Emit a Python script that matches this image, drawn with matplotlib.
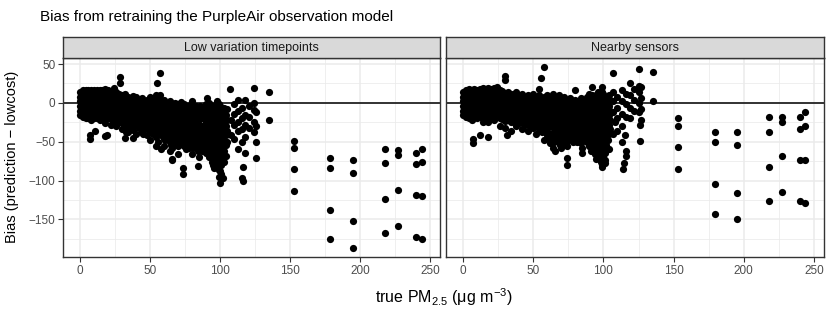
import matplotlib
matplotlib.use("Agg")
import matplotlib.pyplot as plt
from matplotlib.ticker import MultipleLocator

plt.rcParams["font.family"] = ["Liberation Sans", "DejaVu Sans"]
plt.rcParams["mathtext.fontset"] = "custom"
plt.rcParams["mathtext.rm"] = "Liberation Sans"
plt.rcParams["mathtext.it"] = "Liberation Sans:italic"

TITLE = "Bias from retraining the PurpleAir observation model"
PANELS = ["Low variation timepoints", "Nearby sensors"]

# dense part of each panel: x value -> y values in that column
low_dense = {
    0: [14, 8, 2, -4, -10, -15],
    2: [16, 10, 4, -2, -8, -14, -18],
    4: [17, 11, 5, -1, -7, -13, -20],
    6: [17, 11, 5, -1, -7, -13, -19],
    8: [17, 11, 5, -1, -7, -13, -22],
    10: [16, 10, 4, -2, -8, -14, -20],
    12: [17, 11, 5, -1, -7, -13, -19],
    14: [16, 10, 4, -2, -8, -14, -22],
    16: [16, 10, 4, -2, -8, -14, -20],
    18: [18, 12, 6, 0, -6, -12, -18, -26],
    20: [17, 11, 5, -1, -7, -13, -19],
    22: [15, 9, 3, -3, -9, -15, -21, -28],
    24: [19, 13, 7, 1, -5, -11, -17, -23],
    26: [14, 8, 2, -4, -10, -16, -22, -30],
    28: [12, 6, 0, -6, -12, -18, -24],
    30: [10, 4, -2, -8, -14, -20, -26, -34],
    32: [12, 6, 0, -6, -12, -18, -24, -30],
    34: [8, 2, -4, -10, -16, -22, -28, -38],
    36: [6, 0, -6, -12, -18, -24, -30],
    38: [9, 3, -3, -9, -15, -21, -27, -35],
    40: [7, 1, -5, -11, -17, -23, -29, -40],
    42: [4, -2, -8, -14, -20, -26, -32],
    44: [6, 0, -6, -12, -18, -24, -30, -38],
    46: [2, -4, -10, -16, -22, -28, -34],
    48: [4, -2, -8, -14, -20, -26, -32, -42],
    50: [8, 2, -4, -10, -16, -22, -28, -36, -48],
    52: [3, -3, -9, -15, -21, -27, -33, -40],
    54: [10, 4, -2, -8, -14, -20, -26, -32, -44, -55],
    56: [5, -1, -7, -13, -19, -25, -31, -38, -50],
    58: [2, -4, -10, -16, -22, -28, -34, -42, -60],
    60: [4, -2, -8, -14, -20, -26, -32, -38, -46, -55],
    62: [0, -6, -12, -18, -24, -30, -36, -44],
    64: [2, -4, -10, -16, -22, -28, -36, -50, -62],
    66: [-2, -8, -14, -20, -28, -36, -44, -58, -72],
    68: [0, -6, -12, -20, -30, -40, -50],
    70: [-4, -10, -18, -26, -34, -46, -56, -66],
    72: [1, -8, -16, -24, -32, -42, -52],
    74: [-2, -12, -22, -30, -40, -55],
    76: [-6, -14, -24, -36, -48, -60],
    78: [-4, -10, -20, -30, -44, -58],
    80: [-8, -18, -28, -40, -52, -66],
    82: [-6, -16, -26, -38, -50],
    84: [-10, -22, -34, -46, -62],
    86: [-4, -14, -28, -40, -56],
    88: [-8, -20, -32, -46, -60],
    90: [-2, -12, -24, -36, -50, -64],
    92: [0, -10, -22, -34, -44, -56, -70],
    94: [-4, -14, -26, -38, -50, -62, -76],
    96: [-6, -16, -28, -40, -52, -64, -72, -84],
    98: [-8, -20, -32, -44, -56, -68, -80],
    100: [-4, -14, -26, -38, -48, -60, -74, -88],
    102: [-10, -22, -34, -46, -58, -70],
    104: [-16, -30, -42, -54, -68],
    110: [-2, -14, -28, -46],
    113: [4, -10, -24, -36, -60],
    116: [-6, -20, -34, -50],
    118: [-16, -28, -44, -64],
    121: [-4, -18, -32],
    124: [0, -9, -25, -38],
    126: [-12, -30],
}
low_fill = {
    61: [-5, -15, -25, -35, -48],
    63: [-3, -13, -23, -33, -42],
    65: [-1, -11, -21, -31, -40, -54],
    67: [-4, -17, -25, -34, -46],
    69: [-2, -15, -23, -36, -44],
    71: [-7, -14, -22, -30, -40, -50],
    73: [-4, -12, -20, -28, -36, -47],
    75: [-10, -18, -28, -42, -52],
    77: [-8, -18, -28, -40, -52],
    79: [-2, -14, -24, -36, -48],
    81: [-12, -22, -34, -44, -58],
    83: [-4, -16, -28, -40, -54],
    85: [-6, -16, -28, -40, -52, -70],
    87: [-10, -20, -34, -48, -62],
    89: [-4, -14, -28, -40, -54],
    91: [-6, -18, -30, -42, -58],
    93: [-6, -18, -30, -40, -52, -66],
    95: [-10, -20, -32, -44, -58, -68, -80],
    97: [-2, -12, -24, -36, -48, -60, -76],
    99: [-2, -14, -26, -38, -50, -62, -86],
    101: [-8, -20, -32, -42, -54, -66, -80, -92],
    103: [-6, -16, -28, -40, -52, -62, -76],
    105: [-8, -22, -36, -50],
}
low_x = [28.6, 28.6, 7, 7, 10.7, 17.9, 19, 32, 38, 57, 55, 57, 79.8, 90.5,
         97.6, 107, 124.5, 118, 135, 135, 125.7, 125.7, 84.5, 73.8, 73.8,
         65.5, 116.7, 115.5, 116.7, 99, 102, 100, 108, 108, 45, 33,
         153, 153, 153, 153, 178.6, 178.6, 178.6, 178.6,
         194.8, 194.8, 194.8, 194.8, 217.9, 217.9, 217.9, 217.9,
         226.9, 226.9, 226.9, 226.9, 239.8, 239.8, 239.8, 239.8,
         244, 244, 244, 244]
low_y = [26, 33, -47, -42, -36.6, -43, -41, -45, -45, 38.7, 25, 10, 3, 6,
         2, 18, 19, 4, 13.7, -22, -50, -71, -81, -84, -92,
         -73, -82, -97, -101, -95, -97, -103, -21.5, -41, -40, -38,
         -49.5, -58, -85, -114, -71, -84, -138, -175,
         -74, -90, -152.6, -187, -60, -78, -124, -167.5,
         -61, -67.5, -112, -158, -64.5, -78.6, -119, -173,
         -59, -76.5, -120, -175]

near_dense = {
    0: [14, 8, 2, -4, -10, -15],
    2: [17, 11, 5, -1, -7, -13, -18],
    4: [18, 12, 6, 0, -6, -12, -19],
    6: [17, 11, 5, -1, -7, -13, -22],
    8: [18, 12, 6, 0, -6, -12, -18],
    10: [17, 11, 5, -1, -7, -13, -20],
    12: [18, 12, 6, 0, -6, -12, -18],
    14: [19, 13, 7, 1, -5, -11, -17, -25],
    16: [18, 12, 6, 0, -6, -12, -18],
    18: [19, 13, 7, 1, -5, -11, -17, -24],
    20: [18, 12, 6, 0, -6, -12, -18],
    22: [19, 13, 7, 1, -5, -11, -17, -22],
    24: [20, 14, 8, 2, -4, -10, -16],
    26: [16, 10, 4, -2, -8, -14, -20, -30],
    28: [15, 9, 3, -3, -9, -15, -21],
    30: [13, 7, 1, -5, -11, -17, -23, -32],
    32: [14, 8, 2, -4, -10, -16, -22],
    34: [11, 5, -1, -7, -13, -19, -25, -36],
    36: [12, 6, 0, -6, -12, -18, -24],
    38: [14, 8, 2, -4, -10, -16, -22, -30],
    40: [10, 4, -2, -8, -14, -20, -26],
    42: [12, 6, 0, -6, -12, -18, -24, -34],
    44: [8, 2, -4, -10, -16, -22, -28],
    46: [10, 4, -2, -8, -14, -20, -26, -36],
    48: [6, 0, -6, -12, -18, -24, -30],
    50: [12, 6, 0, -6, -12, -18, -24, -32],
    52: [8, 2, -4, -10, -16, -22, -28, -40],
    54: [18, 10, 4, -2, -8, -14, -20, -26, -34],
    56: [6, 0, -6, -12, -18, -24, -30, -38],
    58: [8, 2, -4, -10, -16, -22, -28, -36, -48],
    60: [10, 4, -2, -8, -14, -20, -26, -34, -42],
    62: [6, 0, -6, -12, -18, -24, -30, -40, -52],
    64: [12, 4, -2, -8, -14, -22, -30, -40],
    66: [8, 0, -8, -16, -24, -32, -42],
    68: [10, 2, -6, -14, -22, -30, -40, -50],
    70: [4, -4, -12, -20, -28, -38, -48, -58],
    72: [8, 0, -8, -16, -26, -36, -46],
    74: [2, -6, -14, -24, -34, -44, -56],
    76: [6, -2, -10, -20, -30, -42],
    78: [0, -8, -18, -28, -38, -50],
    80: [4, -4, -14, -24, -34, -46],
    82: [-2, -12, -22, -32, -42],
    84: [6, -6, -16, -28, -40, -52],
    86: [2, -8, -20, -32, -44],
    88: [8, -4, -14, -26, -38, -50],
    90: [12, 4, -6, -18, -30, -42, -56],
    92: [10, 0, -10, -22, -34, -46, -60],
    94: [6, -4, -14, -26, -38, -50, -66],
    96: [14, 2, -8, -20, -32, -44, -56, -70],
    98: [8, -2, -12, -24, -36, -48, -60, -76],
    100: [12, 0, -10, -22, -34, -46, -58, -70],
    102: [6, -6, -18, -30, -42, -54],
    104: [10, -4, -16, -28, -40, -60],
    107: [14, 2, -12, -40],
    110: [8, -6, -20, -36],
    113: [16, 2, -14, -30, -50],
    116: [12, -2, -18],
    119: [10, -6, -20],
    122: [18, 4, -10],
    125: [14, 0, -12],
    127: [20, 6, -8, -22],
}
near_fill = {
    61: [0, -10, -20, -30, -46],
    63: [2, -10, -20, -30, -46],
    65: [4, -4, -12, -20, -28, -36, -50],
    67: [4, -4, -12, -20, -28, -36, -46],
    69: [6, -2, -10, -18, -26, -34, -44, -54],
    71: [0, -8, -16, -24, -32, -42, -52],
    73: [4, -4, -12, -20, -30, -40, -50],
    75: [-2, -10, -18, -26, -36, -48],
    77: [2, -6, -14, -24, -34, -46],
    79: [-4, -12, -22, -32, -42],
    81: [0, -8, -18, -28, -40, -50],
    83: [2, -10, -20, -32, -44],
    85: [-2, -12, -24, -36, -48, -58],
    87: [4, -6, -16, -28, -40],
    89: [0, -10, -22, -34, -46],
    91: [8, -2, -12, -24, -36, -48, -62],
    93: [4, -6, -16, -28, -40, -52],
    95: [10, 0, -10, -20, -32, -44, -58, -72],
    97: [4, -6, -16, -28, -40, -52, -64],
    99: [14, 2, -8, -18, -30, -42, -54, -66, -80],
    101: [6, -4, -16, -28, -40, -52, -64, -74],
    103: [0, -12, -24, -36, -48],
    105: [4, -10, -22, -34],
}
near_x = [58, 55.7, 29.8, 29.8, 64, 7, 7, 12, 18, 31, 107, 125, 135, 135,
          79.8, 91.7, 98.8, 119, 125, 126, 126, 108, 115.5, 116, 116, 115,
          114, 99, 101, 84.5, 73.8, 73.8, 65.5,
          153.1, 153.1, 153.1, 153.1, 179.3, 179.3, 179.3, 179.3,
          195, 195, 195, 195, 218.2, 218.2, 218.2, 218.2,
          227.1, 227.1, 227.1, 227.1, 240, 240, 240, 240,
          244, 244, 244, 244]
near_y = [46, 32, 34, 30, -58, -51.5, -46, -41, -44, -42, 38.7, 43, 40, 2,
          17, 21, 20, 25.8, 22, -28, -49.5, -25, -42, -62, -68, -77,
          -85, -83, -78, -64, -71, -79.5, -62,
          -19.3, -29.6, -56.3, -85, -37, -50, -105, -142.7,
          -37, -53.7, -116, -150, -18, -37, -82.5, -126,
          -17.7, -25, -68.8, -114.7, -18.5, -33, -73.5, -127,
          -11.6, -30, -73.5, -129]

X_TICKS = [0, 50, 100, 150, 200, 250]
Y_TICKS = [-150, -100, -50, 0, 50]


def flatten(columns, xs, ys):
    px, py = [], []
    for dense in columns:
        for x, col in dense.items():
            for y in col:
                px.append(x)
                py.append(y)
    return px + list(xs), py + list(ys)


GRID = "#EBEBEB"
DARK = "#333333"

fig = plt.figure(figsize=(8.3, 3.12), dpi=100)
W, H = 830, 312
panels = [
    (63, 440, [low_dense, low_fill], low_x, low_y),
    (446, 824, [near_dense, near_fill], near_x, near_y),
]
top, bottom, strip_top = 58, 257, 37

for i, (x0, x1, cols, sx, sy) in enumerate(panels):
    ax = fig.add_axes([x0 / W, 1 - bottom / H, (x1 - x0) / W, (bottom - top) / H])
    px, py = flatten(cols, sx, sy)
    ax.set_xlim(-12.2, 257.2)
    ax.set_ylim(-198.5, 57.8)
    ax.xaxis.set_minor_locator(MultipleLocator(25))
    ax.yaxis.set_minor_locator(MultipleLocator(25))
    ax.set_xticks(X_TICKS)
    ax.set_yticks(Y_TICKS)
    ax.grid(True, which="major", color=GRID, lw=1.1, zorder=0)
    ax.grid(True, which="minor", color=GRID, lw=0.55, zorder=0)
    ax.set_axisbelow(True)
    ax.axhline(0, color="black", lw=1.1, zorder=2)
    ax.scatter(px, py, s=27, color="black", linewidths=0, zorder=3)
    for sp in ax.spines.values():
        sp.set_color(DARK)
        sp.set_linewidth(1.0)
    ax.tick_params(which="minor", length=0)
    ax.tick_params(which="major", length=3.5, width=0.8, color=DARK,
                   labelsize=8.5, labelcolor="#4D4D4D", pad=2)
    if i > 0:
        ax.tick_params(axis="y", left=False, labelleft=False)

    sax = fig.add_axes([x0 / W, 1 - top / H, (x1 - x0) / W, (top - strip_top) / H])
    sax.set_facecolor("#D9D9D9")
    sax.set_xticks([])
    sax.set_yticks([])
    for sp in sax.spines.values():
        sp.set_color(DARK)
        sp.set_linewidth(1.0)
    sax.text(0.5, 0.5, PANELS[i], ha="center", va="center", fontsize=9,
             color="#1A1A1A", transform=sax.transAxes)

fig.text(40 / W, 1 - 17 / H, TITLE, ha="left", va="center", fontsize=11)
fig.text((63 + 824) / 2 / W, 1 - 297 / H,
         "true PM$\\mathregular{_{2.5}}$ (\u03bcg m$\\mathregular{^{-3}}$)",
         ha="center", va="center", fontsize=11.5)
fig.text(12 / W, 1 - 157 / H, "Bias (prediction \u2212 lowcost)",
         ha="center", va="center", rotation=90, fontsize=10.5)

fig.savefig("out.png", dpi=100)
